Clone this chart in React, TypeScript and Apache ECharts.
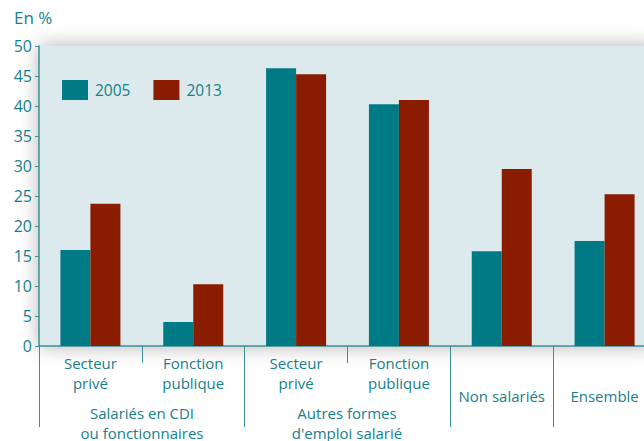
import React, { useEffect, useRef } from "react";
import * as echarts from "echarts";

const categories = [
  "Secteur\nprivé",
  "Fonction\npublique",
  "Secteur\nprivé",
  "Fonction\npublique",
  "Non salariés",
  "Ensemble",
];
const values2005 = [16.0, 4.0, 46.3, 40.3, 15.8, 17.5];
const values2013 = [23.7, 10.3, 45.3, 41.0, 29.5, 25.3];
const yTicks = [0, 5, 10, 15, 20, 25, 30, 35, 40, 45, 50];
const groupLabels = ["Salariés en CDI\nou fonctionnaires", "Autres formes\nd'emploi salarié"];
const longTickIdx = [0, 2, 4, 5, 6];

const TEAL = "#007a84";
const RED = "#8a1c00";
const TXT = "#16808a";
const FONT = "'Open Sans', 'Noto Sans', sans-serif";

export default function App() {
  const ref = useRef<HTMLDivElement>(null);
  useEffect(() => {
    const chart = echarts.init(ref.current!, undefined, { renderer: "svg" });
    chart.setOption({
      animation: false,
      textStyle: { fontFamily: FONT },
      grid: {
        show: true,
        left: 39,
        width: 617,
        top: 46,
        height: 300,
        backgroundColor: "#dceaee",
        borderWidth: 0,
        shadowBlur: 20,
        shadowColor: "rgba(0,0,0,0.32)",
        shadowOffsetY: 0,
      },
      legend: {
        left: 62,
        top: 80,
        padding: 0,
        icon: "rect",
        itemWidth: 26,
        itemHeight: 20,
        itemGap: 23,
        textStyle: { color: TXT, fontSize: 15.5, fontFamily: FONT, padding: [0, 0, 0, 2] },
        data: ["2005", "2013"],
      },
      xAxis: [
        {
          type: "category",
          data: categories,
          boundaryGap: true,
          axisLine: { lineStyle: { color: "#3b8f98", width: 1.5 } },
          axisTick: { show: true, interval: 0, length: 17, lineStyle: { color: "#3b8f98", width: 1 } },
          axisLabel: {
            interval: 0,
            color: TXT,
            fontSize: 15,
            lineHeight: 20,
            margin: 7,
            fontFamily: FONT,
            formatter: (v: string, i: number) => (i >= 4 ? `{s| }\n{b|${v}}` : v),
            rich: {
              s: { fontSize: 10, lineHeight: 33 },
              b: { color: TXT, fontSize: 15, lineHeight: 20, fontFamily: FONT },
            },
          },
        },
        {
          type: "category",
          data: categories,
          position: "bottom",
          boundaryGap: true,
          axisLine: { show: false },
          axisTick: {
            show: true,
            length: 81,
            interval: (i: number) => longTickIdx.includes(i),
            lineStyle: { color: "#3b8f98", width: 1 },
          },
          axisLabel: { show: false },
        },
      ],
      yAxis: {
        type: "value",
        min: yTicks[0],
        max: yTicks[yTicks.length - 1],
        interval: 5,
        axisLine: { show: true, lineStyle: { color: "#3b8f98", width: 1.5 } },
        axisTick: { show: true, length: 4, lineStyle: { color: "#3b8f98" } },
        splitLine: { show: false },
        axisLabel: { color: TXT, fontSize: 16, margin: 7, fontFamily: FONT },
      },
      series: [
        { name: "2005", type: "bar", data: values2005, barWidth: 30, barGap: "0%", itemStyle: { color: TEAL } },
        { name: "2013", type: "bar", data: values2013, barWidth: 30, barGap: "0%", itemStyle: { color: RED } },
      ],
      graphic: [
        {
          type: "text",
          left: 14,
          top: 9,
          style: { text: "En %", fill: TXT, fontSize: 17, fontFamily: FONT },
        },
        {
          type: "text",
          x: 142,
          y: 403,
          style: { text: groupLabels[0], fill: TXT, fontSize: 15, lineHeight: 20, align: "center", fontFamily: FONT },
        },
        {
          type: "text",
          x: 347,
          y: 403,
          style: { text: groupLabels[1], fill: TXT, fontSize: 15, lineHeight: 20, align: "center", fontFamily: FONT },
        },
      ],
    });
    return () => chart.dispose();
  }, []);
  return (
    <div style={{ width: 644, height: 441, position: "absolute", left: 0, top: 0, overflow: "hidden" }}>
      <div ref={ref} style={{ width: 670, height: 441 }} />
    </div>
  );
}
